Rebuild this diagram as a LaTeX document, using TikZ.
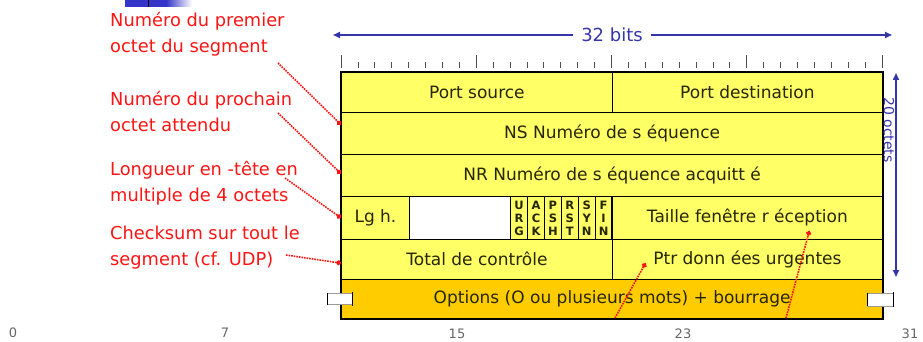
\documentclass[tikz,border=0pt]{standalone}
\usepackage{fontspec}
\setmainfont{DejaVu Sans}
\usetikzlibrary{calc,arrows.meta}

\definecolor{cellyellow}{HTML}{FFFF66}
\definecolor{optorange}{HTML}{FFCC00}
\definecolor{dimblue}{HTML}{3535AA}
\definecolor{barblue}{HTML}{3434C8}
\definecolor{notered}{HTML}{FF1414}
\definecolor{celltext}{HTML}{262600}
\definecolor{scalegray}{HTML}{666666}

\begin{document}
\begin{tikzpicture}[x=1pt,y=-1pt,
  cell/.style={draw=black, line width=1.3pt, fill=cellyellow, anchor=north west,
    inner sep=0pt, text=celltext, font=\fontsize{17}{20}\selectfont},
  flagcell/.style={cell, minimum width=16.9pt, minimum height=42.5pt, align=center,
    font=\fontsize{11.5}{13}\bfseries\selectfont},
  note/.style={anchor=north west, inner sep=0pt, align=left, text=notered,
    font=\fontsize{17.8}{26}\selectfont},
  pointer/.style={draw=notered, line width=1.6pt, dash pattern=on 1.6pt off 1pt,
    -{Circle[length=5pt]}},
  dimline/.style={draw=dimblue, line width=1.6pt, -{Triangle[length=7pt,width=6pt]}},
  dimtext/.style={text=dimblue, font=\fontsize{18}{21}\selectfont},
  bitnum/.style={text=scalegray, font=\fontsize{13}{15}\selectfont, inner sep=0pt},
  tick/.style={draw=black!70, line width=0.8pt}
]
\useasboundingbox (0,0) rectangle (923,342);

% fragment of a shaded bar at the upper edge
\fill[barblue] (125,0) rectangle (166,7);
\shade[left color=barblue, right color=white] (166,0) rectangle (192,7);
\draw[black, line width=0.8pt] (148,0) -- (148,7);

% ---- header rows ----
\node[cell, minimum width=270.5pt, minimum height=40pt] (psrc) at (341,72) {Port source};
\node[cell, minimum width=270.5pt, minimum height=40pt] (pdst) at (611.5,72) {Port destination};
\node[cell, minimum width=541pt, minimum height=42pt] (ns) at (341,112) {NS Numéro de s équence};
\node[cell, minimum width=541pt, minimum height=42pt] (nr) at (341,154) {NR Numéro de s équence acquitt é};
\node[cell, minimum width=67.6pt, minimum height=42.5pt] (lg) at (341,196) {Lg h.};
\node[cell, fill=white, minimum width=101.4pt, minimum height=42.5pt] (rsv) at (408.6,196) {};
\node[flagcell] (urgf) at (510.0,196) {U\\R\\G};
\node[flagcell] (ackf) at (526.9,196) {A\\C\\K};
\node[flagcell] (pshf) at (543.8,196) {P\\S\\H};
\node[flagcell] (rstf) at (560.7,196) {R\\S\\T};
\node[flagcell] (synf) at (577.6,196) {S\\Y\\N};
\node[flagcell] (finf) at (594.5,196) {F\\I\\N};
\node[cell, minimum width=270.5pt, minimum height=42.5pt] (win) at (611.5,196) {Taille fenêtre r éception};
\node[cell, minimum width=270.5pt, minimum height=40pt] (chk) at (341,238.5) {Total de contrôle};
\node[cell, minimum width=270.5pt, minimum height=40pt] (urg) at (611.5,238.5) {Ptr donn ées urgentes};
\node[cell, fill=optorange, minimum width=541pt, minimum height=39.5pt] (opt) at (341,278.5) {Options (O ou plusieurs mots) + bourrage};
\draw[black, line width=1.8pt] (psrc.north west) rectangle (opt.south east);

% ---- bit ruler above the header ----
\foreach \i in {0,...,32}{
  \pgfmathsetmacro{\tx}{341+\i*16.906}
  \pgfmathtruncatemacro{\major}{mod(\i,8)==0 ? 1 : 0}
  \ifnum\major=1
    \draw[tick] (\tx,55) -- (\tx,68);
  \else
    \draw[tick] (\tx,62) -- (\tx,68);
  \fi
}

% ---- width and height dimensions ----
\coordinate (bitsL) at (333,35);
\coordinate (bitsR) at (892,35);
\node[dimtext, inner xsep=8pt] (bits) at (612,35) {32 bits};
\draw[dimline] (bits) -- (bitsL);
\draw[dimline] (bits) -- (bitsR);

\coordinate (octT) at (896,73);
\coordinate (octB) at (896,277);
\draw[dimline, {Triangle[length=7pt,width=6pt]}-{Triangle[length=7pt,width=6pt]}] (octT) -- (octB);
\node[dimtext, rotate=-90, inner sep=0pt, font=\fontsize{14}{17}\selectfont] (oct) at (889,130) {20 octets};

% ---- break marks on the options row ----
\fill[white] (327,293) rectangle (352,304);
\draw[black!40, line width=0.6pt] (327,293) -- (352,293) (327,304) -- (352,304);
\draw[black, line width=1pt] (327,292.5) -- (327,304.5) (352,291.5) -- (352,305.5);
\fill[white] (867,293) rectangle (893,306);
\draw[black!40, line width=0.6pt] (867,293) -- (893,293) (867,306) -- (893,306);
\draw[black, line width=1pt] (867,292.5) -- (867,306) (893,292) -- (893,307);

% ---- bit numbers ----
\node[bitnum] (b0) at (13,333) {0};
\node[bitnum] (b7) at (225,333) {7};
\node[bitnum] (b15) at (457,334) {15};
\node[bitnum] (b23) at (683,334) {23};
\node[bitnum] (b31) at (910,334) {31};

% ---- annotations ----
\node[note] (lab1) at (110,12) {Numéro du premier\\octet du segment};
\node[note] (lab2) at (110,91) {Numéro du prochain\\octet attendu};
\node[note] (lab3) at (110,161) {Longueur en -tête en\\multiple de 4 octets};
\node[note] (lab4) at (110,226) {Checksum sur tout le\\segment (cf. UDP)};

\coordinate (p1) at (278,63);
\coordinate (p2) at (278,113);
\coordinate (p3) at (285,178);
\coordinate (p4) at (286,255);
\draw[pointer] (p1) -- ($(ns.west)+(0,-9)$);
\draw[pointer] (p2) -- ($(nr.west)+(0,-2)$);
\draw[pointer] (p3) -- ($(lg.west)+(0,0)$);
\draw[pointer] (p4) -- ($(chk.west)+(0,4)$);

\coordinate (p5) at (615,318);
\coordinate (p6) at (786,318);
\draw[pointer] (p5) -- ($(urg.west)+(34,4)$);
\draw[pointer] (p6) -- ($(win.east)+(-74,13)$);
\end{tikzpicture}
\end{document}
